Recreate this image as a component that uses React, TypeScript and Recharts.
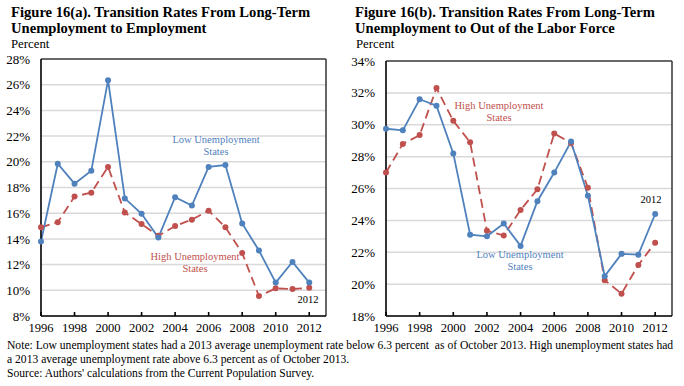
import React from 'react'
import {
  LineChart,
  Line,
  XAxis,
  YAxis,
  CartesianGrid,
  ReferenceLine,
} from 'recharts'

const years = [
  1996, 1997, 1998, 1999, 2000, 2001, 2002, 2003, 2004,
  2005, 2006, 2007, 2008, 2009, 2010, 2011, 2012,
]
const yearTicks = [1996, 1998, 2000, 2002, 2004, 2006, 2008, 2010, 2012]

// Figure 16(a): to employment
const empLow = [13.8, 19.85, 18.3, 19.3, 26.35, 17.15, 15.95, 14.1, 17.25, 16.6, 19.6, 19.75, 15.2, 13.1, 10.6, 12.2, 10.6]
const empHigh = [14.9, 15.3, 17.3, 17.6, 19.6, 16.05, 15.15, 14.25, 15.0, 15.5, 16.2, 14.9, 12.9, 9.55, 10.15, 10.1, 10.2]
const empTicks = [8, 10, 12, 14, 16, 18, 20, 22, 24, 26, 28]

// Figure 16(b): to out of the labor force
const olfLow = [29.75, 29.65, 31.6, 31.2, 28.2, 23.1, 23.0, 23.8, 22.4, 25.2, 27.0, 28.95, 25.55, 20.5, 21.9, 21.85, 24.4]
const olfHigh = [27.0, 28.8, 29.35, 32.3, 30.25, 28.9, 23.35, 23.05, 24.65, 25.95, 29.45, 28.85, 26.05, 20.25, 19.4, 21.2, 22.6]
const olfTicks = [18, 20, 22, 24, 26, 28, 30, 32, 34]

const BLUE = '#4F81BD'
const RED = '#C0504D'
const FONT = "'Liberation Serif', 'Times New Roman', Tinos, serif"

const empData = years.map((y, i) => ({ year: y, low: empLow[i], high: empHigh[i] }))
const olfData = years.map((y, i) => ({ year: y, low: olfLow[i], high: olfHigh[i] }))

interface PanelProps {
  data: { year: number; low: number; high: number }[]
  ticks: number[]
  yWidth: number
  marginRight: number
  marginTop: number
}

function Panel({ data, ticks, yWidth, marginRight, marginTop }: PanelProps) {
  const yMin = ticks[0]
  const yMax = ticks[ticks.length - 1]
  return (
    <LineChart
      width={342}
      height={340}
      data={data}
      margin={{ top: marginTop, right: marginRight, left: 0, bottom: 0 }}
      style={{ fontFamily: FONT }}
    >
      <CartesianGrid vertical={false} stroke="#D9D9D9" strokeWidth={1.5} />
      <ReferenceLine y={yMax} stroke="#404040" strokeWidth={1.6} />
      <ReferenceLine x={2013} stroke="#404040" strokeWidth={1.6} />
      <XAxis
        dataKey="year"
        type="number"
        domain={[1996, 2013]}
        ticks={yearTicks}
        height={24}
        tick={{ fontSize: 12.6, fill: '#000', fontFamily: FONT }}
        tickSize={-4}
        tickMargin={11}
        stroke="#000"
        strokeWidth={1.6}
        interval={0}
      />
      <YAxis
        domain={[yMin, yMax]}
        ticks={ticks}
        width={yWidth}
        tick={{ fontSize: 13, fill: '#000', fontFamily: FONT }}
        tickLine={false}
        tickSize={4}
        tickMargin={7}
        stroke="#000"
        strokeWidth={1.6}
        tickFormatter={(v: number) => `${v}%`}
        interval={0}
      />
      <Line
        dataKey="high"
        stroke={RED}
        strokeWidth={1.8}
        strokeDasharray="9 5"
        dot={{ r: 3, fill: RED, stroke: RED, strokeWidth: 0 }}
        isAnimationActive={false}
      />
      <Line
        dataKey="low"
        stroke={BLUE}
        strokeWidth={1.8}
        dot={{ r: 3, fill: BLUE, stroke: BLUE, strokeWidth: 0 }}
        isAnimationActive={false}
      />
    </LineChart>
  )
}

const abs = (x: number, y: number, extra: React.CSSProperties = {}): React.CSSProperties => ({
  position: 'absolute',
  left: x,
  top: y,
  whiteSpace: 'nowrap',
  ...extra,
})

function Note({ x, y, color, lines, size = 10.5 }: { x: number; y: number; color: string; lines: string[]; size?: number }) {
  return (
    <div style={abs(x, y, { color, fontSize: size, lineHeight: '12px', textAlign: 'center', transform: 'translateX(-50%)' })}>
      {lines.map(l => (
        <div key={l}>{l}</div>
      ))}
    </div>
  )
}

export default function App() {
  const titleStyle: React.CSSProperties = { fontWeight: 'bold', fontSize: 14.6, lineHeight: '16px' }
  return (
    <div
      style={{
        position: 'absolute',
        left: 0,
        top: 0,
        width: 684,
        height: 386,
        background: '#fff',
        fontFamily: FONT,
        color: '#000',
        overflow: 'hidden',
      }}
    >
      <div style={abs(0, 0)}>
        <Panel data={empData} ticks={empTicks} yWidth={41} marginRight={16} marginTop={59} />
      </div>
      <div style={abs(342, 0)}>
        <Panel data={olfData} ticks={olfTicks} yWidth={44} marginRight={12} marginTop={61} />
      </div>

      <div style={abs(11, 4, titleStyle)}>
        Figure 16(a). Transition Rates From Long-Term
        <br />
        Unemployment to Employment
      </div>
      <div style={abs(11, 37, { fontSize: 12.8 })}>Percent</div>

      <div style={abs(355, 4, titleStyle)}>
        Figure 16(b). Transition Rates From Long-Term
        <br />
        Unemployment to Out of the Labor Force
      </div>
      <div style={abs(356, 37, { fontSize: 12.8 })}>Percent</div>

      <Note x={216} y={134} color={BLUE} lines={['Low Unemployment', 'States']} />
      <Note x={195} y={251} color={RED} lines={['High Unemployment', 'States']} />
      <Note x={308} y={294} color="#000" lines={['2012']} />

      <Note x={499} y={100} color={RED} lines={['High Unemployment', 'States']} />
      <Note x={520} y={249} color={BLUE} lines={['Low Unemployment', 'States']} />
      <Note x={651} y={194} color="#000" lines={['2012']} />

      <div style={abs(7, 339, { fontSize: 11.6, lineHeight: '14px' })}>
        Note: Low unemployment states had a 2013 average unemployment rate below 6.3 percent&nbsp; as of October 2013. High unemployment states had
        <br />
        a 2013 average unemployment rate above 6.3 percent as of October 2013.
        <br />
        Source: Authors' calculations from the Current Population Survey.
      </div>
    </div>
  )
}
